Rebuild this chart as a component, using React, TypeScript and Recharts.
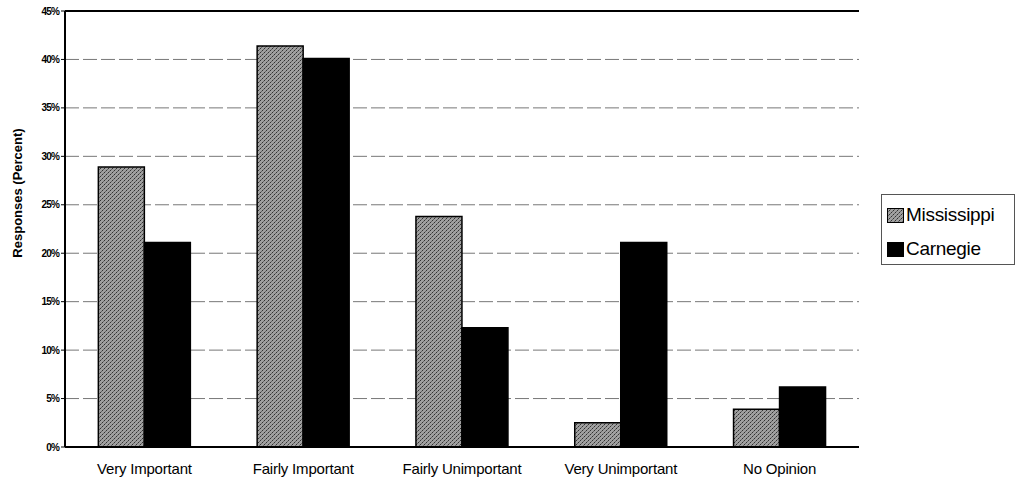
import React from 'react';
import { BarChart, Bar, XAxis, YAxis, CartesianGrid, ReferenceLine } from 'recharts';

const categories = ['Very Important', 'Fairly Important', 'Fairly Unimportant', 'Very Unimportant', 'No Opinion'];
const mississippi = [28.9, 41.4, 23.8, 2.5, 3.9];
const carnegie = [21.1, 40.1, 12.3, 21.1, 6.2];
const yTicks = [0, 5, 10, 15, 20, 25, 30, 35, 40, 45];

const data = categories.map((name, i) => ({ name, mississippi: mississippi[i], carnegie: carnegie[i] }));

const font = '"Liberation Sans", Arial, sans-serif';

const LegendBox = () => (
    <div style={{ position: 'absolute', left: 881, top: 194, border: '1px solid #555', width: 134, height: 71, fontFamily: font, fontSize: 19, color: '#000', boxSizing: 'border-box', paddingLeft: 5 }}>
        <div style={{ display: 'flex', alignItems: 'center', height: 36, paddingTop: 2 }}>
            <svg width={17} height={15} style={{ marginRight: 2 }}>
                <rect x={0.5} y={0.5} width={16} height={14} fill="url(#dither)" stroke="#000" />
            </svg>
            <span style={{ letterSpacing: -0.3 }}>Mississippi</span>
        </div>
        <div style={{ display: 'flex', alignItems: 'center', height: 32 }}>
            <svg width={17} height={15} style={{ marginRight: 2 }}>
                <rect x={0} y={0} width={17} height={15} fill="#000" />
            </svg>
            <span style={{ letterSpacing: -0.3 }}>Carnegie</span>
        </div>
    </div>
);

const YLabel = () => (
    <text x={22} y={193} transform="rotate(-90 22 193)" textAnchor="middle" fontFamily={font} fontWeight="bold" fontSize={13} fill="#000">
        Responses (Percent)
    </text>
);

export default function App() {
    return (
        <div style={{ position: 'absolute', left: 0, top: 0, width: 1019, height: 484, background: '#fff' }}>
            <BarChart width={1019} height={484} data={data} margin={{ top: 11, right: 160, bottom: 7, left: 0 }} barCategoryGap="21%" barGap={0}>
                <defs>
                    <pattern id="dither" width={4} height={4} patternUnits="userSpaceOnUse">
                        <rect width={4} height={4} fill="#a0a0a0" />
                        <rect x={0} y={0} width={1} height={1} fill="#333" />
                        <rect x={2} y={2} width={1} height={1} fill="#333" />
                        <rect x={3} y={1} width={1} height={1} fill="#666" />
                        <rect x={1} y={3} width={1} height={1} fill="#666" />
                    </pattern>
                </defs>
                <CartesianGrid vertical={false} stroke="#777" strokeDasharray="14 4" />
                <XAxis dataKey="name" height={30} axisLine={{ stroke: '#000', strokeWidth: 2 }} tickLine={false} tickMargin={10}
                    tick={{ fill: '#000', fontSize: 15, fontFamily: font, letterSpacing: -0.2 }} />
                <YAxis width={65} domain={[0, 45]} ticks={yTicks} interval={0} tickFormatter={(v) => `${v}%`}
                    axisLine={{ stroke: '#000', strokeWidth: 2 }} tickLine={{ stroke: '#000' }} tickSize={4}
                    tick={{ fill: '#000', fontSize: 10, fontWeight: 'bold', fontFamily: font, letterSpacing: -0.8 }}
                    label={{ content: YLabel }} />
                <YAxis yAxisId="r" orientation="right" width={0} domain={[0, 45]} tick={false} tickLine={false}
                    axisLine={{ stroke: '#000', strokeWidth: 2 }} />
                <ReferenceLine y={45} stroke="#000" strokeWidth={2} />
                <Bar dataKey="mississippi" name="Mississippi" fill="url(#dither)" stroke="#000" strokeWidth={1.5} isAnimationActive={false} />
                <Bar dataKey="carnegie" name="Carnegie" fill="#000" stroke="#000" strokeWidth={1.5} isAnimationActive={false} />
            </BarChart>
            <LegendBox />
        </div>
    );
}
